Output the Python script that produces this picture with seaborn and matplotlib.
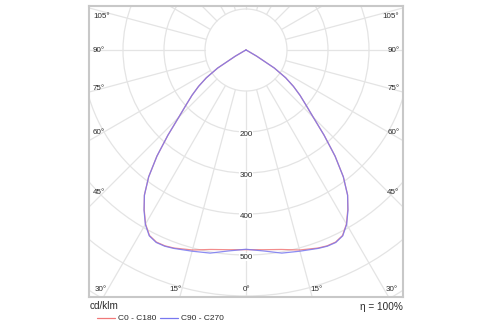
import numpy as np
import pandas as pd
import matplotlib
matplotlib.use("Agg")
import matplotlib.pyplot as plt
from matplotlib.lines import Line2D
from matplotlib.patches import Circle
import seaborn as sns

# ---- data (gamma angle in degrees, luminous intensity in cd/klm) ----
gamma = [-90, -65, -62.5, -60, -57.5, -55, -52.5, -50, -47.5, -45, -42.5, -40, -37.5, -35,
         -32.5, -30, -27.5, -25, -22.5, -20, -15, -10, -5, 0, 5, 10, 15, 20, 22.5,
         25, 27.5, 30, 32.5, 35, 37.5, 40, 42.5, 45, 47.5, 50, 52.5, 55, 57.5, 60, 62.5, 65, 90]
c0_c180 = [0, 0, 4, 30, 82, 118, 146, 172, 198, 232, 282, 338, 390, 432,
           462, 490, 510, 517, 517, 514, 505, 494, 489, 487, 489, 494, 505, 514, 517,
           517, 510, 490, 462, 432, 390, 338, 282, 232, 198, 172, 146, 118, 82, 30, 4, 0, 0]
c90_c270 = [0, 0, 4, 30, 82, 118, 146, 172, 198, 232, 282, 338, 390, 432,
            463, 491, 511, 518, 518, 515, 508, 503, 492, 486, 492, 503, 508, 515, 518,
            518, 511, 491, 463, 432, 390, 338, 282, 232, 198, 172, 146, 118, 82, 30, 4, 0, 0]
series_names = ["C0 - C180", "C90 - C270"]
ring_values = [100, 200, 300, 400, 500, 600, 700]
ring_labels = [200, 300, 400, 500]
angle_labels_side = [105, 90, 75, 60, 45]
angle_labels_bottom = [30, 15, 0, 15, 30]
unit_label = "cd/klm"
efficiency_label = "η = 100%"

# ---- style ----
sns.set_style("white")
plt.rcParams["font.family"] = ["Liberation Sans", "DejaVu Sans"]
txt_color = "#2a2a2a"
grid_color = "#e4e4e4"
colors = {"C0 - C180": "#f07878", "C90 - C270": "#7878f0"}

fig = plt.figure(figsize=(5, 3.25), dpi=100)
W, H = 500.0, 325.0
# axes box in pixels: x 89..403, y 6..297
ax = fig.add_axes([89 / W, (H - 297) / H, 314 / W, 291 / H])
s = 0.41  # px per cd/klm
cxp, cyp = 246.0, 50.0
ax.set_xlim((89 - cxp) / s, (403 - cxp) / s)
ax.set_ylim((cyp - 297) / s, (cyp - 6) / s)
ax.set_aspect("equal", adjustable="box")
ax.set_xticks([])
ax.set_yticks([])
for sp in ax.spines.values():
    sp.set_color("#c8c8c8")
    sp.set_linewidth(1.5)

# ---- grid ----
for r in ring_values:
    ax.add_patch(Circle((0, 0), r, fill=False, ec=grid_color, lw=0.9, zorder=1))
for a in range(0, 360, 15):
    t = np.deg2rad(a)
    ax.plot([100 * np.sin(t), 900 * np.sin(t)], [-100 * np.cos(t), -900 * np.cos(t)],
            color=grid_color, lw=0.9, zorder=1)

# ---- curves ----
rows = []
for name, vals in zip(series_names, [c0_c180, c90_c270]):
    for i, (g, v) in enumerate(zip(gamma, vals)):
        t = np.deg2rad(g)
        rows.append({"plane": name, "order": i, "x": v * np.sin(t), "y": -v * np.cos(t)})
df = pd.DataFrame(rows)
sns.lineplot(data=df, x="x", y="y", hue="plane", palette=colors, sort=False,
             estimator=None, units="plane", lw=0.9, alpha=0.85, legend=False, ax=ax, zorder=3)
ax.set_xlabel("")
ax.set_ylabel("")

# ---- labels ----
def px2d(px, py):
    return (px - cxp) / s, (cyp - py) / s

fs = 5.8
for v in ring_labels:
    ax.text(0, -v - 5, str(v), ha="center", va="center", fontsize=fs, color=txt_color,
            bbox=dict(boxstyle="square,pad=0.1", fc="white", ec="none"), zorder=4)

side_y = [16, 50, 89, 132, 193]
for lab, py in zip(angle_labels_side, side_y):
    x, y = px2d(93, py)
    ax.text(x, y, f"{lab}°", ha="left", va="center", fontsize=fs, color=txt_color, zorder=4)
    x, y = px2d(399.5, py)
    ax.text(x, y, f"{lab}°", ha="right", va="center", fontsize=fs, color=txt_color, zorder=4)
bottom_x = [101, 175.7, 246.7, 317, 391.5]
for lab, pxx in zip(angle_labels_bottom, bottom_x):
    x, y = px2d(pxx, 290)
    ax.text(x, y, f"{lab}°", ha="center", va="center", fontsize=fs, color=txt_color, zorder=4)

# ---- legend / footer ----
fig.text(90 / W, 1 - 306 / H, unit_label, ha="left", va="center", fontsize=7.2, color=txt_color)
fig.text(403 / W, 1 - 307.5 / H, efficiency_label, ha="right", va="center", fontsize=7.2, color=txt_color)
leg_x = [(97, 115, 118), (160, 178, 181)]
for name, (x0, x1, xt) in zip(series_names, leg_x):
    fig.add_artist(Line2D([x0 / W, x1 / W], [1 - 318 / H, 1 - 318 / H],
                          color=colors[name], lw=0.9, transform=fig.transFigure))
    fig.text(xt / W, 1 - 318 / H, name, ha="left", va="center", fontsize=6, color=txt_color)

fig.savefig("out.png", dpi=100)
